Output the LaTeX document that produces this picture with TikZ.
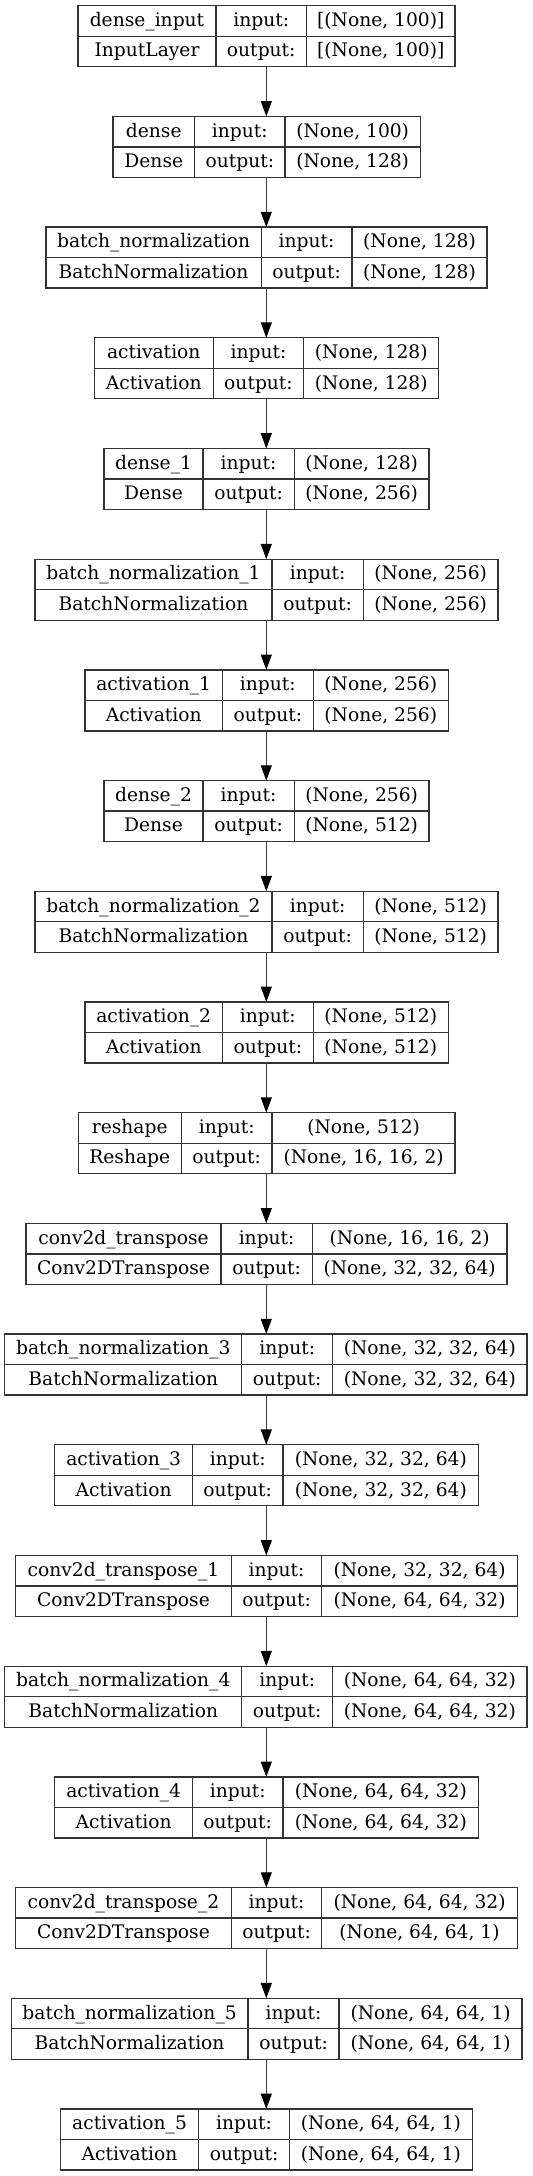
\documentclass[tikz,border=0pt]{standalone}
\usepackage{fontspec}
\setmainfont{DejaVu Serif}
\usetikzlibrary{arrows.meta}
\tikzset{
  layerbox/.style={draw=black!80, line width=1pt, minimum height=45.75pt, inner sep=0pt, outer sep=0pt},
  cellline/.style={draw=black!80, line width=1pt},
  lbl/.style={anchor=base, inner sep=0pt, outer sep=0pt, font=\fontsize{14pt}{16pt}\selectfont},
  arr/.style={draw=black!75, line width=1pt, -{Triangle[black,length=11.5pt,width=8.2pt]}},
}
\newcommand\lay[6]{%
  \pgfmathsetmacro\Ly{5.7+110.7*#2}%
  \pgfmathsetmacro\La{#3}\pgfmathsetmacro\Lb{#4}%
  \pgfmathsetmacro\Lc{#5}\pgfmathsetmacro\Ld{#6}%
  \def\Ln{#1}%
  \pgfmathsetmacro\Lw{(#6-#3)*0.75}%
  \node[layerbox, minimum width=\Lw pt, anchor=north west] (#1) at (\La,\Ly) {};
  \draw[cellline] (\Lb,\Ly) -- (\Lb,\Ly+61);
  \draw[cellline] (\Lc,\Ly) -- (\Lc,\Ly+61);
  \draw[cellline] (\La,\Ly+30.5) -- (\Ld,\Ly+30.5);
}
\newcommand\txt[4]{%
  \node[lbl] (\Ln-n) at ({(\La+\Lb)/2},\Ly+20.75) {#1};
  \node[lbl] (\Ln-t) at ({(\La+\Lb)/2},\Ly+51.25) {#2};
  \node[lbl] (\Ln-il) at ({(\Lb+\Lc)/2},\Ly+20.75) {input:};
  \node[lbl] (\Ln-ol) at ({(\Lb+\Lc)/2},\Ly+51.25) {output:};
  \node[lbl] (\Ln-i) at ({(\Lc+\Ld)/2},\Ly+20.75) {#3};
  \node[lbl] (\Ln-o) at ({(\Lc+\Ld)/2},\Ly+51.25) {#4};
}
\begin{document}
\begin{tikzpicture}[x=0.75pt, y=-0.75pt]
\fill[white] (0,0) rectangle (532,2176);
\useasboundingbox (0,0) rectangle (532,2176);
\coordinate (ax) at (266.3,0);

\lay{L0}{0}{78}{216}{306.5}{455}
\txt{dense\_input}{InputLayer}{[(None, 100)]}{[(None, 100)]}
\lay{L1}{1}{113}{194.6}{285}{420.4}
\txt{dense}{Dense}{(None, 100)}{(None, 128)}
\lay{L2}{2}{46}{261.2}{352}{487}
\txt{batch\_normalization}{BatchNormalization}{(None, 128)}{(None, 128)}
\lay{L3}{3}{94.2}{213.3}{303.7}{438.8}
\txt{activation}{Activation}{(None, 128)}{(None, 128)}
\lay{L4}{4}{104}{203}{294.2}{429}
\txt{dense\_1}{Dense}{(None, 128)}{(None, 256)}
\lay{L5}{5}{35}{272}{363.3}{498}
\txt{batch\_normalization\_1}{BatchNormalization}{(None, 256)}{(None, 256)}
\lay{L6}{6}{85}{222.4}{313.3}{448.3}
\txt{activation\_1}{Activation}{(None, 256)}{(None, 256)}
\lay{L7}{7}{104}{203}{294.2}{429}
\txt{dense\_2}{Dense}{(None, 256)}{(None, 512)}
\lay{L8}{8}{35}{272}{363.3}{498}
\txt{batch\_normalization\_2}{BatchNormalization}{(None, 512)}{(None, 512)}
\lay{L9}{9}{85}{222.4}{313.3}{448.3}
\txt{activation\_2}{Activation}{(None, 512)}{(None, 512)}
\lay{L10}{10}{78.2}{181.3}{272.1}{455.1}
\txt{reshape}{Reshape}{(None, 512)}{(None, 16, 16, 2)}
\lay{L11}{11}{25.9}{221.1}{312.2}{507.1}
\txt{conv2d\_transpose}{Conv2DTranspose}{(None, 16, 16, 2)}{(None, 32, 32, 64)}
\lay{L12}{12}{4.8}{241.8}{332.7}{527}
\txt{batch\_normalization\_3}{BatchNormalization}{(None, 32, 32, 64)}{(None, 32, 32, 64)}
\lay{L13}{13}{54.8}{192.5}{283}{478.6}
\txt{activation\_3}{Activation}{(None, 32, 32, 64)}{(None, 32, 32, 64)}
\lay{L14}{14}{15.6}{231.3}{321.8}{517.3}
\txt{conv2d\_transpose\_1}{Conv2DTranspose}{(None, 32, 32, 64)}{(None, 64, 64, 32)}
\lay{L15}{15}{4.8}{241.8}{332.7}{527}
\txt{batch\_normalization\_4}{BatchNormalization}{(None, 64, 64, 32)}{(None, 64, 64, 32)}
\lay{L16}{16}{54.8}{192.5}{283}{478.6}
\txt{activation\_4}{Activation}{(None, 64, 64, 32)}{(None, 64, 64, 32)}
\lay{L17}{17}{15.6}{231.3}{321.8}{517.3}
\txt{conv2d\_transpose\_2}{Conv2DTranspose}{(None, 64, 64, 32)}{(None, 64, 64, 1)}
\lay{L18}{18}{11.2}{248}{339.1}{522.1}
\txt{batch\_normalization\_5}{BatchNormalization}{(None, 64, 64, 1)}{(None, 64, 64, 1)}
\lay{L19}{19}{60.5}{198.6}{289.5}{472.4}
\txt{activation\_5}{Activation}{(None, 64, 64, 1)}{(None, 64, 64, 1)}

\foreach \a/\b in {L0/L1,L1/L2,L2/L3,L3/L4,L4/L5,L5/L6,L6/L7,L7/L8,L8/L9,L9/L10,L10/L11,L11/L12,L12/L13,L13/L14,L14/L15,L15/L16,L16/L17,L17/L18,L18/L19}
  \draw[arr] (ax |- \a.south) -- (ax |- \b.north);
\end{tikzpicture}
\end{document}
